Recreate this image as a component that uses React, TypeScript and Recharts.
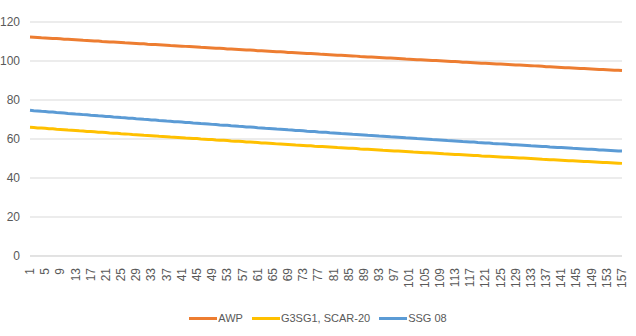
import { LineChart, Line, XAxis, YAxis, CartesianGrid } from 'recharts';

// distance step 1..157
const steps: number[] = Array.from({ length: 157 }, (_, i) => i + 1);

const awp = [
  112.3, 112.2, 112.1, 111.9, 111.8, 111.7, 111.6, 111.5, 111.4, 111.2, 111.1, 111.0,
  110.9, 110.8, 110.6, 110.5, 110.4, 110.3, 110.2, 110.0, 109.9, 109.8, 109.7, 109.6,
  109.5, 109.3, 109.2, 109.1, 109.0, 108.9, 108.8, 108.6, 108.5, 108.4, 108.3, 108.2,
  108.1, 107.9, 107.8, 107.7, 107.6, 107.5, 107.4, 107.3, 107.2, 107.0, 106.9, 106.8,
  106.7, 106.6, 106.5, 106.4, 106.2, 106.1, 106.0, 105.9, 105.8, 105.7, 105.6, 105.5,
  105.3, 105.2, 105.1, 105.0, 104.9, 104.8, 104.7, 104.6, 104.4, 104.3, 104.2, 104.1,
  104.0, 103.9, 103.8, 103.7, 103.6, 103.4, 103.3, 103.2, 103.1, 103.0, 102.9, 102.8,
  102.7, 102.6, 102.5, 102.3, 102.2, 102.1, 102.0, 101.9, 101.8, 101.7, 101.6, 101.5,
  101.4, 101.3, 101.2, 101.0, 100.9, 100.8, 100.7, 100.6, 100.5, 100.4, 100.3, 100.2,
  100.1, 100.0, 99.9, 99.8, 99.7, 99.6, 99.4, 99.3, 99.2, 99.1, 99.0, 98.9,
  98.8, 98.7, 98.6, 98.5, 98.4, 98.3, 98.2, 98.1, 98.0, 97.9, 97.8, 97.7,
  97.6, 97.5, 97.4, 97.3, 97.1, 97.0, 96.9, 96.8, 96.7, 96.6, 96.5, 96.4,
  96.3, 96.2, 96.1, 96.0, 95.9, 95.8, 95.7, 95.6, 95.5, 95.4, 95.3, 95.2,
  95.1,
];

const g3sg1 = [
  66.0, 65.9, 65.7, 65.6, 65.5, 65.3, 65.2, 65.0, 64.9, 64.8, 64.6, 64.5,
  64.4, 64.2, 64.1, 63.9, 63.8, 63.7, 63.5, 63.4, 63.3, 63.1, 63.0, 62.9,
  62.7, 62.6, 62.5, 62.3, 62.2, 62.1, 61.9, 61.8, 61.7, 61.6, 61.4, 61.3,
  61.2, 61.0, 60.9, 60.8, 60.7, 60.5, 60.4, 60.3, 60.2, 60.0, 59.9, 59.8,
  59.7, 59.5, 59.4, 59.3, 59.2, 59.0, 58.9, 58.8, 58.7, 58.5, 58.4, 58.3,
  58.2, 58.0, 57.9, 57.8, 57.7, 57.5, 57.4, 57.3, 57.2, 57.1, 56.9, 56.8,
  56.7, 56.6, 56.5, 56.3, 56.2, 56.1, 56.0, 55.9, 55.8, 55.6, 55.5, 55.4,
  55.3, 55.2, 55.1, 54.9, 54.8, 54.7, 54.6, 54.5, 54.4, 54.2, 54.1, 54.0,
  53.9, 53.8, 53.7, 53.6, 53.5, 53.3, 53.2, 53.1, 53.0, 52.9, 52.8, 52.7,
  52.6, 52.4, 52.3, 52.2, 52.1, 52.0, 51.9, 51.8, 51.7, 51.6, 51.5, 51.3,
  51.2, 51.1, 51.0, 50.9, 50.8, 50.7, 50.6, 50.5, 50.4, 50.3, 50.2, 50.1,
  50.0, 49.9, 49.8, 49.6, 49.5, 49.4, 49.3, 49.2, 49.1, 49.0, 48.9, 48.8,
  48.7, 48.6, 48.5, 48.4, 48.3, 48.2, 48.1, 48.0, 47.9, 47.8, 47.7, 47.6,
  47.5,
];

const ssg08 = [
  74.7, 74.5, 74.4, 74.2, 74.1, 73.9, 73.8, 73.6, 73.5, 73.3, 73.1, 73.0,
  72.8, 72.7, 72.5, 72.4, 72.2, 72.1, 71.9, 71.8, 71.6, 71.5, 71.3, 71.2,
  71.0, 70.9, 70.7, 70.6, 70.4, 70.3, 70.1, 70.0, 69.8, 69.7, 69.5, 69.4,
  69.2, 69.1, 68.9, 68.8, 68.7, 68.5, 68.4, 68.2, 68.1, 67.9, 67.8, 67.7,
  67.5, 67.4, 67.2, 67.1, 67.0, 66.8, 66.7, 66.5, 66.4, 66.2, 66.1, 66.0,
  65.8, 65.7, 65.5, 65.4, 65.3, 65.1, 65.0, 64.9, 64.7, 64.6, 64.4, 64.3,
  64.2, 64.0, 63.9, 63.8, 63.6, 63.5, 63.4, 63.2, 63.1, 63.0, 62.8, 62.7,
  62.6, 62.4, 62.3, 62.2, 62.1, 61.9, 61.8, 61.7, 61.5, 61.4, 61.3, 61.1,
  61.0, 60.9, 60.8, 60.6, 60.5, 60.4, 60.2, 60.1, 60.0, 59.9, 59.7, 59.6,
  59.5, 59.4, 59.2, 59.1, 59.0, 58.9, 58.7, 58.6, 58.5, 58.4, 58.2, 58.1,
  58.0, 57.9, 57.7, 57.6, 57.5, 57.4, 57.3, 57.1, 57.0, 56.9, 56.8, 56.7,
  56.5, 56.4, 56.3, 56.2, 56.1, 55.9, 55.8, 55.7, 55.6, 55.5, 55.4, 55.2,
  55.1, 55.0, 54.9, 54.8, 54.7, 54.6, 54.4, 54.3, 54.2, 54.1, 54.0, 53.9,
  53.8,
];

const yTicks = [0, 20, 40, 60, 80, 100, 120];

const series = [
  { key: 'awp', name: 'AWP', color: '#ED7D31' },
  { key: 'g3sg1', name: 'G3SG1, SCAR-20', color: '#FFC000' },
  { key: 'ssg08', name: 'SSG 08', color: '#5B9BD5' },
];

const data = steps.map((s, i) => ({ step: String(s), awp: awp[i], g3sg1: g3sg1[i], ssg08: ssg08[i] }));

const FONT = '"Liberation Sans", Arial, sans-serif';

const XTick = ({ x, y, payload }: any) => (
  <text
    x={x}
    y={y}
    transform={`rotate(-90, ${x}, ${y})`}
    textAnchor="end"
    dominantBaseline="central"
    fontSize={12}
    fontFamily={FONT}
    fill="#595959"
  >
    {payload.value}
  </text>
);

export default function App() {
  return (
    <div style={{ position: 'absolute', left: 0, top: 0, width: 636, height: 336, background: '#fff' }}>
      <LineChart width={636} height={336} data={data} margin={{ top: 22, right: 14, bottom: 36, left: 0 }}>
        <CartesianGrid vertical={false} stroke="#D9D9D9" />
        <XAxis
          dataKey="step"
          interval={3}
          tick={<XTick />}
          tickLine={false}
          axisLine={{ stroke: '#D9D9D9' }}
          height={44}
          tickMargin={6}
        />
        <YAxis
          domain={[0, 120]}
          ticks={yTicks}
          width={30}
          tickLine={false}
          axisLine={false}
          tickSize={0}
          tickMargin={10}
          tick={{ fill: '#595959', fontSize: 12, fontFamily: FONT }}
        />
        {series.map((s) => (
          <Line
            key={s.key}
            dataKey={s.key}
            name={s.name}
            stroke={s.color}
            strokeWidth={3}
            dot={false}
            activeDot={false}
            isAnimationActive={false}
          />
        ))}
      </LineChart>
      <div
        style={{
          position: 'absolute',
          left: 0,
          top: 310,
          width: 636,
          display: 'flex',
          justifyContent: 'center',
          gap: 9,
          fontFamily: FONT,
          fontSize: 11,
          color: '#595959',
          lineHeight: '16px',
        }}
      >
        {series.map((s) => (
          <div key={s.key} style={{ display: 'flex', alignItems: 'center' }}>
            <span style={{ display: 'inline-block', width: 28, height: 3, background: s.color, marginRight: 1 }} />
            {s.name}
          </div>
        ))}
      </div>
    </div>
  );
}
